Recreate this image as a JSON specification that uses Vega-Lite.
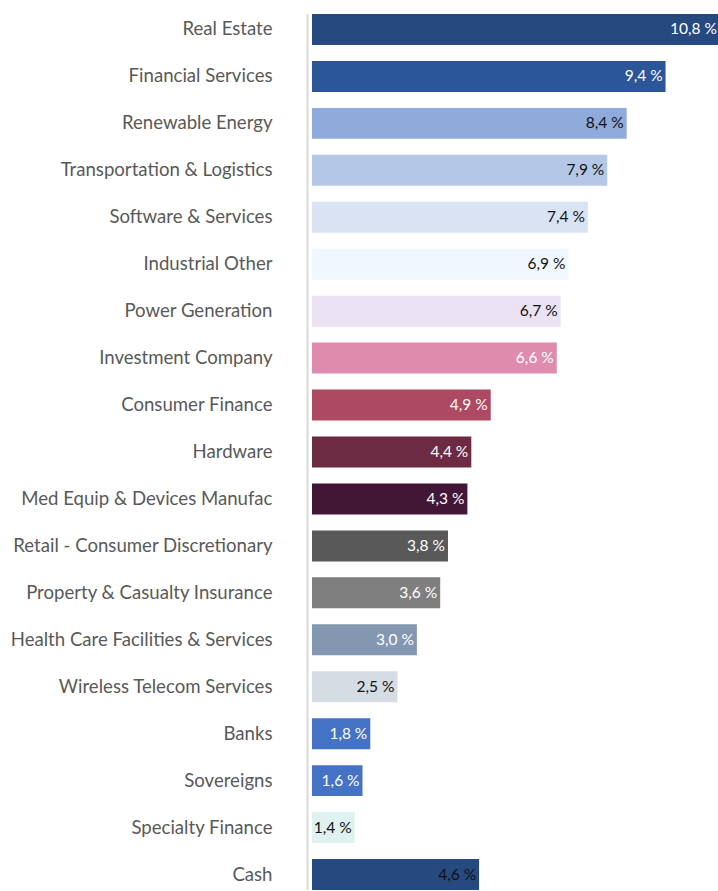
{
  "$schema": "https://vega.github.io/schema/vega-lite/v6.json",
  "autosize": "none",
  "padding": {"left": 312, "top": 14, "right": 0, "bottom": 0},
  "width": 406,
  "height": 876,
  "background": "white",
  "config": {"view": {"stroke": null}, "font": "Lato"},
  "data": {
    "values": [
      {"sector": "Real Estate", "value": 10.8, "label": "10,8 %"},
      {"sector": "Financial Services", "value": 9.4, "label": "9,4 %"},
      {"sector": "Renewable Energy", "value": 8.4, "label": "8,4 %"},
      {"sector": "Transportation & Logistics", "value": 7.9, "label": "7,9 %"},
      {"sector": "Software & Services", "value": 7.4, "label": "7,4 %"},
      {"sector": "Industrial Other", "value": 6.9, "label": "6,9 %"},
      {"sector": "Power Generation", "value": 6.7, "label": "6,7 %"},
      {"sector": "Investment Company", "value": 6.6, "label": "6,6 %"},
      {"sector": "Consumer Finance", "value": 4.9, "label": "4,9 %"},
      {"sector": "Hardware", "value": 4.4, "label": "4,4 %"},
      {"sector": "Med Equip & Devices Manufac", "value": 4.3, "label": "4,3 %"},
      {"sector": "Retail - Consumer Discretionary", "value": 3.8, "label": "3,8 %"},
      {"sector": "Property & Casualty Insurance", "value": 3.6, "label": "3,6 %"},
      {"sector": "Health Care Facilities & Services", "value": 3.0, "label": "3,0 %"},
      {"sector": "Wireless Telecom Services", "value": 2.5, "label": "2,5 %"},
      {"sector": "Banks", "value": 1.8, "label": "1,8 %"},
      {"sector": "Sovereigns", "value": 1.6, "label": "1,6 %"},
      {"sector": "Specialty Finance", "value": 1.4, "label": "1,4 %"},
      {"sector": "Cash", "value": 4.6, "label": "4,6 %"}
    ]
  },
  "encoding": {
    "y": {
      "field": "sector",
      "type": "nominal",
      "sort": null,
      "scale": {"paddingInner": 0.34, "paddingOuter": 0},
      "axis": {
        "title": null,
        "offset": 5,
        "domainColor": "#d9d9d9",
        "domainWidth": 2,
        "ticks": false,
        "labelPadding": 35,
        "labelFont": "Lato",
        "labelFontSize": 18.6,
        "labelColor": "#595959",
        "labelLimit": 400
      }
    },
    "x": {
      "field": "value",
      "type": "quantitative",
      "scale": {"domain": [0.3, 10.75], "zero": false, "nice": false},
      "axis": null
    }
  },
  "layer": [
    {
      "mark": {"type": "bar"},
      "encoding": {
        "x2": {"datum": 0.3},
        "color": {
          "field": "sector",
          "type": "nominal",
          "sort": null,
          "legend": null,
          "scale": {
            "domain": ["Real Estate", "Financial Services", "Renewable Energy", "Transportation & Logistics", "Software & Services", "Industrial Other", "Power Generation", "Investment Company", "Consumer Finance", "Hardware", "Med Equip & Devices Manufac", "Retail - Consumer Discretionary", "Property & Casualty Insurance", "Health Care Facilities & Services", "Wireless Telecom Services", "Banks", "Sovereigns", "Specialty Finance", "Cash"],
            "range": ["#264a80", "#2b5699", "#8eabdb", "#b4c7e7", "#dae3f3", "#f0f7ff", "#ebe2f3", "#df8bae", "#ad4962", "#6d2b43", "#421735", "#595959", "#7f7f7f", "#8497b0", "#d6dce4", "#4472c4", "#4472c4", "#dff2f0", "#264a80"]
          }
        }
      }
    },
    {
      "mark": {"type": "text", "align": "right", "baseline": "middle", "dx": -3, "font": "Lato", "fontSize": 15.5},
      "encoding": {
        "text": {"field": "label"},
        "color": {
          "field": "sector",
          "type": "nominal",
          "sort": null,
          "legend": null,
          "scale": {
            "domain": ["Real Estate", "Financial Services", "Renewable Energy", "Transportation & Logistics", "Software & Services", "Industrial Other", "Power Generation", "Investment Company", "Consumer Finance", "Hardware", "Med Equip & Devices Manufac", "Retail - Consumer Discretionary", "Property & Casualty Insurance", "Health Care Facilities & Services", "Wireless Telecom Services", "Banks", "Sovereigns", "Specialty Finance", "Cash"],
            "range": ["#ffffff", "#ffffff", "#111111", "#111111", "#111111", "#111111", "#111111", "#ffffff", "#ffffff", "#ffffff", "#ffffff", "#ffffff", "#ffffff", "#ffffff", "#111111", "#ffffff", "#ffffff", "#111111", "#111111"]
          }
        }
      }
    }
  ],
  "resolve": {"scale": {"color": "independent"}}
}
